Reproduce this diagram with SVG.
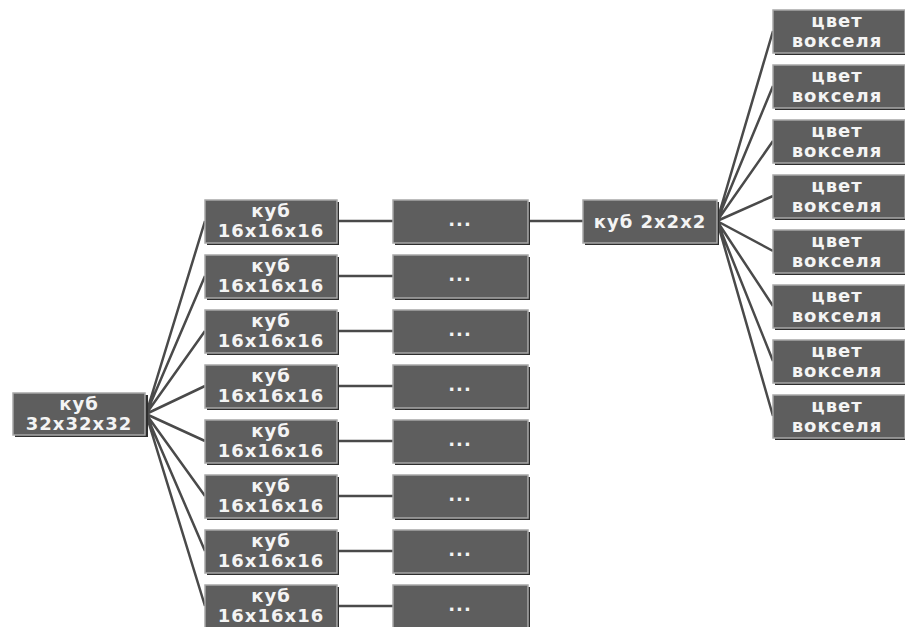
<svg xmlns="http://www.w3.org/2000/svg" width="905" height="627" viewBox="0 0 905 627">
<defs>
<style>
.box{fill:#5e5e5e;stroke:#a8a8a8;stroke-width:1.5}
.sh{fill:#2e2e2e}
.t{font-family:"DejaVu Sans",Verdana,sans-serif;font-size:18px;font-weight:bold;letter-spacing:1px;fill:#f4f4f4;text-anchor:middle}
.c{stroke:#4a4a4a;stroke-width:2.5;fill:none}
</style>
</defs>
<rect width="905" height="627" fill="#ffffff"/>
<g id="connectors">
<path class="c" d="M146 414 L205 221 M146 414 L205 276 M146 414 L205 331 M146 414 L205 386 M146 414 L205 441 M146 414 L205 496 M146 414 L205 551 M146 414 L205 606"/>
<path class="c" d="M337 221 H393 M337 276 H393 M337 331 H393 M337 386 H393 M337 441 H393 M337 496 H393 M337 551 H393 M337 606 H393"/>
<path class="c" d="M528 221 H583"/>
<path class="c" d="M717 221 L773 31 M717 221 L773 86 M717 221 L773 141 M717 221 L773 196 M717 221 L773 251 M717 221 L773 306 M717 221 L773 361 M717 221 L773 416"/>
</g>
<g id="n_root"><rect class="sh" x="15" y="395" width="133" height="42"/><rect class="box" x="13" y="393" width="132" height="42"/><text class="t" x="79" y="410">куб</text><text class="t" x="79" y="430">32x32x32</text></g>
<g id="n_m1"><rect class="sh" x="207" y="202" width="132" height="43"/><rect class="box" x="205" y="200" width="132" height="43"/><text class="t" x="271" y="217">куб</text><text class="t" x="271" y="237">16x16x16</text></g>
<g id="n_m2"><rect class="sh" x="207" y="257" width="132" height="43"/><rect class="box" x="205" y="255" width="132" height="43"/><text class="t" x="271" y="272">куб</text><text class="t" x="271" y="292">16x16x16</text></g>
<g id="n_m3"><rect class="sh" x="207" y="312" width="132" height="43"/><rect class="box" x="205" y="310" width="132" height="43"/><text class="t" x="271" y="327">куб</text><text class="t" x="271" y="347">16x16x16</text></g>
<g id="n_m4"><rect class="sh" x="207" y="367" width="132" height="43"/><rect class="box" x="205" y="365" width="132" height="43"/><text class="t" x="271" y="382">куб</text><text class="t" x="271" y="402">16x16x16</text></g>
<g id="n_m5"><rect class="sh" x="207" y="422" width="132" height="43"/><rect class="box" x="205" y="420" width="132" height="43"/><text class="t" x="271" y="437">куб</text><text class="t" x="271" y="457">16x16x16</text></g>
<g id="n_m6"><rect class="sh" x="207" y="477" width="132" height="43"/><rect class="box" x="205" y="475" width="132" height="43"/><text class="t" x="271" y="492">куб</text><text class="t" x="271" y="512">16x16x16</text></g>
<g id="n_m7"><rect class="sh" x="207" y="532" width="132" height="43"/><rect class="box" x="205" y="530" width="132" height="43"/><text class="t" x="271" y="547">куб</text><text class="t" x="271" y="567">16x16x16</text></g>
<g id="n_m8"><rect class="sh" x="207" y="587" width="132" height="43"/><rect class="box" x="205" y="585" width="132" height="43"/><text class="t" x="271" y="602">куб</text><text class="t" x="271" y="622">16x16x16</text></g>
<g id="n_d1"><rect class="sh" x="395" y="202" width="135" height="43"/><rect class="box" x="393" y="200" width="135" height="43"/><text class="t" x="460" y="226">...</text></g>
<g id="n_d2"><rect class="sh" x="395" y="257" width="135" height="43"/><rect class="box" x="393" y="255" width="135" height="43"/><text class="t" x="460" y="281">...</text></g>
<g id="n_d3"><rect class="sh" x="395" y="312" width="135" height="43"/><rect class="box" x="393" y="310" width="135" height="43"/><text class="t" x="460" y="336">...</text></g>
<g id="n_d4"><rect class="sh" x="395" y="367" width="135" height="43"/><rect class="box" x="393" y="365" width="135" height="43"/><text class="t" x="460" y="391">...</text></g>
<g id="n_d5"><rect class="sh" x="395" y="422" width="135" height="43"/><rect class="box" x="393" y="420" width="135" height="43"/><text class="t" x="460" y="446">...</text></g>
<g id="n_d6"><rect class="sh" x="395" y="477" width="135" height="43"/><rect class="box" x="393" y="475" width="135" height="43"/><text class="t" x="460" y="501">...</text></g>
<g id="n_d7"><rect class="sh" x="395" y="532" width="135" height="43"/><rect class="box" x="393" y="530" width="135" height="43"/><text class="t" x="460" y="556">...</text></g>
<g id="n_d8"><rect class="sh" x="395" y="587" width="135" height="43"/><rect class="box" x="393" y="585" width="135" height="43"/><text class="t" x="460" y="611">...</text></g>
<g id="n_k2"><rect class="sh" x="585" y="202" width="134" height="43"/><rect class="box" x="583" y="200" width="134" height="43"/><text class="t" x="650" y="228">куб 2x2x2</text></g>
<g id="n_v1"><rect class="sh" x="775" y="12" width="132" height="43"/><rect class="box" x="773" y="10" width="132" height="43"/><text class="t" x="837" y="27">цвет</text><text class="t" x="837" y="47">вокселя</text></g>
<g id="n_v2"><rect class="sh" x="775" y="67" width="132" height="43"/><rect class="box" x="773" y="65" width="132" height="43"/><text class="t" x="837" y="82">цвет</text><text class="t" x="837" y="102">вокселя</text></g>
<g id="n_v3"><rect class="sh" x="775" y="122" width="132" height="43"/><rect class="box" x="773" y="120" width="132" height="43"/><text class="t" x="837" y="137">цвет</text><text class="t" x="837" y="157">вокселя</text></g>
<g id="n_v4"><rect class="sh" x="775" y="177" width="132" height="43"/><rect class="box" x="773" y="175" width="132" height="43"/><text class="t" x="837" y="192">цвет</text><text class="t" x="837" y="212">вокселя</text></g>
<g id="n_v5"><rect class="sh" x="775" y="232" width="132" height="43"/><rect class="box" x="773" y="230" width="132" height="43"/><text class="t" x="837" y="247">цвет</text><text class="t" x="837" y="267">вокселя</text></g>
<g id="n_v6"><rect class="sh" x="775" y="287" width="132" height="43"/><rect class="box" x="773" y="285" width="132" height="43"/><text class="t" x="837" y="302">цвет</text><text class="t" x="837" y="322">вокселя</text></g>
<g id="n_v7"><rect class="sh" x="775" y="342" width="132" height="43"/><rect class="box" x="773" y="340" width="132" height="43"/><text class="t" x="837" y="357">цвет</text><text class="t" x="837" y="377">вокселя</text></g>
<g id="n_v8"><rect class="sh" x="775" y="397" width="132" height="43"/><rect class="box" x="773" y="395" width="132" height="43"/><text class="t" x="837" y="412">цвет</text><text class="t" x="837" y="432">вокселя</text></g>
</svg>
